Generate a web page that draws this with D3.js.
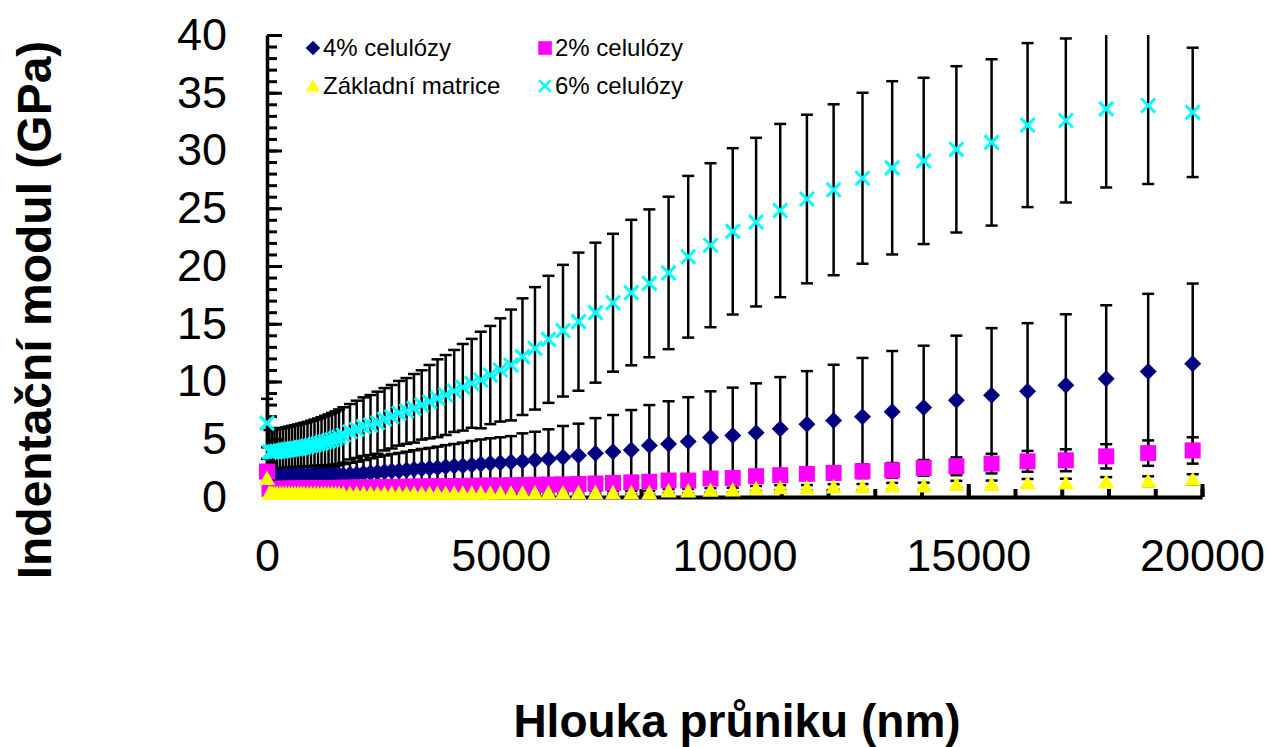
<!DOCTYPE html>
<html>
<head>
<meta charset="utf-8">
<script src="https://cdn.jsdelivr.net/npm/d3@7"></script>
<style>
  html, body { margin: 0; padding: 0; background: #ffffff; }
  svg { display: block; font-family: "Liberation Sans", Arial, sans-serif; }
</style>
</head>
<body>
<svg id="chart" width="1267" height="747"></svg>
<script>
// ---------------- data ----------------
const depth = [0, 53, 107, 160, 214, 278, 342, 406, 471, 535, 599, 663, 727, 791, 866, 941,
  1016, 1091, 1166, 1241, 1316, 1390, 1465, 1540,
  1632, 1775, 1919, 2064, 2214, 2364, 2513, 2667, 2824, 2984, 3144, 3309, 3476, 3647, 3822,
  4004, 4188, 4379, 4573, 4776, 4990, 5219, 5465, 5732, 6021, 6331, 6663, 7026, 7401, 7792,
  8178, 8590, 9010, 9487, 9962, 10462, 10978, 11549, 12120, 12738, 13373, 14047, 14746,
  15499, 16269, 17087, 17951, 18849, 19801];

const cel4 = [2.3, 1.75, 1.75, 1.75, 1.76, 1.77, 1.78, 1.79, 1.8, 1.8, 1.81, 1.82, 1.82, 1.83, 1.84, 1.85,
  1.85, 1.86, 1.87, 1.87, 1.88, 1.88, 1.89, 1.89,
  1.9, 1.96, 1.99, 2.05, 2.1, 2.14, 2.19, 2.25, 2.28, 2.34, 2.4, 2.45, 2.48, 2.54, 2.62,
  2.68, 2.71, 2.77, 2.86, 2.92, 2.97, 3.02, 3.09, 3.2, 3.29, 3.44, 3.6, 3.78, 3.92, 4.07,
  4.46, 4.58, 4.81, 5.15, 5.32, 5.57, 5.9, 6.29, 6.63, 6.95, 7.38, 7.75, 8.38,
  8.81, 9.15, 9.67, 10.24, 10.87, 11.53];
const cel4Err = [1.0, 0.7, 0.7, 0.71, 0.72, 0.73, 0.74, 0.75, 0.76, 0.77, 0.78, 0.79, 0.8, 0.81, 0.82, 0.83,
  0.84, 0.85, 0.86, 0.87, 0.88, 0.89, 0.9, 0.92,
  0.95, 1.0, 1.07, 1.15, 1.25, 1.35, 1.41, 1.47, 1.53, 1.58, 1.65, 1.71, 1.77, 1.82, 1.87,
  1.91, 2.0, 2.08, 2.12, 2.16, 2.2, 2.25, 2.42, 2.45, 2.57, 2.71, 2.75, 3.05, 3.18, 3.46,
  3.5, 3.71, 3.83, 4.0, 4.15, 4.27, 4.48, 4.61, 4.82, 5.09, 5.26, 5.35, 5.59,
  5.81, 5.9, 6.15, 6.36, 6.72, 6.95];

const cel2 = [2.2, 0.7, 0.7, 0.7, 0.7, 0.7, 0.71, 0.71, 0.72, 0.72, 0.73, 0.73, 0.74, 0.74, 0.75, 0.75,
  0.76, 0.76, 0.77, 0.77, 0.78, 0.78, 0.79, 0.79,
  0.8, 0.81, 0.82, 0.83, 0.84, 0.85, 0.86, 0.87, 0.88, 0.89, 0.9, 0.91, 0.92, 0.93, 0.94,
  0.95, 0.96, 0.97, 0.98, 0.99, 1.0, 1.02, 1.04, 1.06, 1.08, 1.1, 1.13, 1.17, 1.22, 1.27,
  1.32, 1.43, 1.43, 1.6, 1.65, 1.8, 1.89, 2.0, 2.08, 2.23, 2.31, 2.52, 2.66,
  2.89, 3.09, 3.18, 3.52, 3.8, 4.03];
const cel2Err = [0.5, 0.15, 0.15, 0.15, 0.15, 0.15, 0.15, 0.15, 0.15, 0.15, 0.16, 0.16, 0.16, 0.16, 0.16, 0.16,
  0.17, 0.17, 0.17, 0.17, 0.17, 0.18, 0.18, 0.18,
  0.18, 0.19, 0.19, 0.2, 0.2, 0.2, 0.21, 0.21, 0.22, 0.22, 0.22, 0.23, 0.23, 0.24, 0.24,
  0.25, 0.25, 0.26, 0.26, 0.27, 0.27, 0.28, 0.28, 0.29, 0.3, 0.3, 0.31, 0.32, 0.33, 0.34,
  0.35, 0.38, 0.4, 0.42, 0.45, 0.48, 0.5, 0.53, 0.56, 0.6, 0.63, 0.68, 0.77,
  0.85, 0.9, 0.95, 1.05, 1.1, 1.14];

const matrix = [1.6, 0.35, 0.32, 0.3, 0.3, 0.3, 0.3, 0.3, 0.3, 0.3, 0.3, 0.3, 0.3, 0.3, 0.3, 0.3,
  0.3, 0.3, 0.3, 0.3, 0.3, 0.3, 0.3, 0.3,
  0.3, 0.3, 0.3, 0.3, 0.3, 0.3, 0.3, 0.3, 0.3, 0.3, 0.3, 0.3, 0.31, 0.31, 0.31,
  0.31, 0.32, 0.32, 0.32, 0.32, 0.33, 0.33, 0.33, 0.34, 0.34, 0.35, 0.35, 0.36, 0.36, 0.37,
  0.37, 0.51, 0.51, 0.57, 0.6, 0.74, 0.8, 0.8, 0.86, 0.86, 0.94, 0.94, 1.08,
  1.08, 1.2, 1.2, 1.32, 1.37, 1.52];
const matrixErr = [0.3, 0.08, 0.08, 0.08, 0.08, 0.08, 0.08, 0.08, 0.08, 0.08, 0.08, 0.08, 0.08, 0.08, 0.08, 0.08,
  0.08, 0.08, 0.08, 0.08, 0.08, 0.08, 0.08, 0.08,
  0.08, 0.08, 0.08, 0.08, 0.09, 0.09, 0.09, 0.09, 0.1, 0.1, 0.1, 0.1, 0.1, 0.11, 0.11,
  0.11, 0.11, 0.12, 0.12, 0.12, 0.12, 0.13, 0.13, 0.13, 0.13, 0.14, 0.14, 0.14, 0.15, 0.15,
  0.16, 0.17, 0.18, 0.19, 0.2, 0.21, 0.22, 0.23, 0.24, 0.26, 0.28, 0.3, 0.32,
  0.34, 0.36, 0.38, 0.4, 0.42, 0.45];

const cel6 = [6.4, 3.9, 3.9, 3.92, 3.95, 3.98, 4.02, 4.06, 4.1, 4.14, 4.18, 4.22, 4.27, 4.32, 4.38, 4.45,
  4.52, 4.6, 4.68, 4.77, 4.86, 4.96, 5.06, 5.2,
  5.37, 5.65, 5.86, 6.09, 6.23, 6.43, 6.73, 6.95, 7.25, 7.45, 7.68, 7.97, 8.25, 8.55, 8.83,
  9.18, 9.5, 9.84, 10.13, 10.56, 11.0, 11.43, 12.15, 12.87, 13.65, 14.4, 15.18, 15.96, 16.82, 17.7,
  18.5, 19.4, 20.8, 21.8, 23.0, 23.8, 24.8, 25.8, 26.6, 27.6, 28.5, 29.1, 30.1,
  30.7, 32.2, 32.6, 33.6, 33.9, 33.3];
const cel6Err = [2.1, 1.9, 1.9, 1.9, 1.92, 1.94, 1.96, 1.98, 2.0, 2.02, 2.04, 2.06, 2.08, 2.1, 2.12, 2.15,
  2.18, 2.2, 2.23, 2.26, 2.29, 2.32, 2.35, 2.38,
  2.4, 2.4, 2.48, 2.54, 2.6, 2.69, 2.7, 2.75, 2.8, 2.85, 2.97, 3.0, 3.18, 3.37, 3.46,
  3.55, 3.75, 3.85, 4.18, 4.25, 4.47, 4.8, 5.05, 5.3, 5.5, 5.7, 5.98, 6.06, 5.97, 6.3,
  6.4, 6.6, 7.0, 7.1, 7.2, 7.3, 7.5, 7.3, 7.4, 7.4, 7.5, 7.2, 7.2,
  7.2, 7.1, 7.1, 6.8, 6.8, 5.6];

const seriesNames = ["4% celulózy", "2% celulózy", "Základní matrice", "6% celulózy"];
const seriesColors = ["#000080", "#FF00FF", "#FFFF00", "#00FFFF"];
const seriesShapes = ["diamond", "square", "triangle", "cross"];

const xTicks = [0, 5000, 10000, 15000, 20000];
const yTicks = [0, 5, 10, 15, 20, 25, 30, 35, 40];
const xTitle = "Hlouka průniku (nm)";
const yTitle = "Indentační modul (GPa)";

// ---------------- chart ----------------
const series = [
  { name: seriesNames[0], values: cel4, errs: cel4Err, color: seriesColors[0], shape: seriesShapes[0] },
  { name: seriesNames[1], values: cel2, errs: cel2Err, color: seriesColors[1], shape: seriesShapes[1] },
  { name: seriesNames[2], values: matrix, errs: matrixErr, color: seriesColors[2], shape: seriesShapes[2] },
  { name: seriesNames[3], values: cel6, errs: cel6Err, color: seriesColors[3], shape: seriesShapes[3] }
];

const svg = d3.select("#chart");
const X0 = 267, X1 = 1202, Y0 = 497, Y1 = 35;
const x = d3.scaleLinear().domain([0, 20000]).range([X0, X1]);
const y = d3.scaleLinear().domain([0, 40]).range([Y0, Y1]);

svg.append("defs").append("clipPath").attr("id", "plotclip")
  .append("rect").attr("x", X0 - 20).attr("y", Y1).attr("width", X1 - X0 + 40).attr("height", Y0 - Y1 + 20);

// Y axis: minor ticks
const yMinor = svg.append("g").attr("transform", `translate(${X0},0)`)
  .call(d3.axisLeft(y).tickValues(d3.range(0, 41, 1)).tickSizeInner(-10).tickSizeOuter(0).tickFormat(""));
yMinor.select(".domain").remove();
yMinor.selectAll(".tick line").attr("stroke", "#000").attr("stroke-width", 3);

// Y axis: major ticks with labels
const yAx = svg.append("g").attr("transform", `translate(${X0},0)`)
  .call(d3.axisLeft(y).tickValues(yTicks).tickSizeInner(-15).tickSizeOuter(0).tickPadding(40));
yAx.select(".domain").attr("stroke", "#000").attr("stroke-width", 3.5);
yAx.selectAll(".tick line").attr("stroke", "#000").attr("stroke-width", 3);
yAx.selectAll(".tick text").attr("font-size", 45).attr("fill", "#000")
  .attr("font-family", "Liberation Sans, Arial, sans-serif");

// X axis minor ticks
const xMinor = svg.append("g").attr("transform", `translate(0,${Y0})`)
  .call(d3.axisBottom(x).tickValues(d3.range(0, 20001, 1000)).tickSizeInner(-8).tickSizeOuter(0).tickFormat(""));
xMinor.select(".domain").remove();
xMinor.selectAll(".tick line").attr("stroke", "#000").attr("stroke-width", 4);

// X axis major
const xAx = svg.append("g").attr("transform", `translate(0,${Y0})`)
  .call(d3.axisBottom(x).tickValues(xTicks).tickSizeInner(-13).tickSizeOuter(0).tickPadding(42).tickFormat(d3.format("d")));
xAx.select(".domain").attr("stroke", "#000").attr("stroke-width", 4);
xAx.selectAll(".tick line").attr("stroke", "#000").attr("stroke-width", 4);
xAx.selectAll(".tick text").attr("font-size", 45).attr("fill", "#000")
  .attr("font-family", "Liberation Sans, Arial, sans-serif");

// Error bars (all series first)
const capW = 6;
const eb = svg.append("g").attr("clip-path", "url(#plotclip)");
series.forEach(s => {
  const g = eb.append("g");
  depth.forEach((d, i) => {
    const cx = x(d), hi = y(s.values[i] + s.errs[i]), lo = y(s.values[i] - s.errs[i]);
    g.append("line").attr("x1", cx).attr("x2", cx).attr("y1", hi).attr("y2", lo)
      .attr("stroke", "#000").attr("stroke-width", 2.5);
    g.append("line").attr("x1", cx - capW).attr("x2", cx + capW).attr("y1", hi).attr("y2", hi)
      .attr("stroke", "#000").attr("stroke-width", 2.5);
    g.append("line").attr("x1", cx - capW).attr("x2", cx + capW).attr("y1", lo).attr("y2", lo)
      .attr("stroke", "#000").attr("stroke-width", 2.5);
  });
});

function drawMarker(g, shape, cx, cy, color, k) {
  const s = k || 1;
  if (shape === "diamond") {
    const r = 8.5 * s;
    g.append("path").attr("d", `M${cx},${cy - r}L${cx + r},${cy}L${cx},${cy + r}L${cx - r},${cy}Z`)
      .attr("fill", color);
  } else if (shape === "square") {
    const h = 8 * s;
    g.append("rect").attr("x", cx - h).attr("y", cy - h).attr("width", 2 * h).attr("height", 2 * h).attr("fill", color);
  } else if (shape === "triangle") {
    const h = 8 * s;
    g.append("path").attr("d", `M${cx},${cy - h}L${cx + h},${cy + h * 0.8}L${cx - h},${cy + h * 0.8}Z`).attr("fill", color);
  } else {
    const h = 7 * s;
    g.append("path").attr("d", `M${cx - h},${cy - h}L${cx + h},${cy + h}M${cx - h},${cy + h}L${cx + h},${cy - h}`)
      .attr("stroke", color).attr("stroke-width", 3 * Math.max(s, 0.7)).attr("fill", "none");
  }
}

// Markers
const mk = svg.append("g");
series.forEach(s => {
  const g = mk.append("g");
  depth.forEach((d, i) => drawMarker(g, s.shape, x(d), y(s.values[i]), s.color));
});

// Legend
const legendPos = [[313, 48], [545, 48], [313, 86], [545, 86]];
const lg = svg.append("g");
series.forEach((s, i) => {
  const [lx, ly] = legendPos[i];
  drawMarker(lg, s.shape, lx, ly, s.color, 0.85);
  lg.append("text").attr("x", lx + 10).attr("y", ly).attr("dy", "0.35em")
    .attr("font-size", 24).attr("fill", "#000").text(s.name);
});

// Titles
svg.append("text").attr("x", 737).attr("y", 737).attr("text-anchor", "middle")
  .attr("font-size", 46).attr("font-weight", "bold").attr("fill", "#000").text(xTitle);
svg.append("text").attr("transform", "translate(51,310) rotate(-90)").attr("text-anchor", "middle")
  .attr("font-size", 48).attr("font-weight", "bold").attr("fill", "#000").text(yTitle);
</script>
</body>
</html>
